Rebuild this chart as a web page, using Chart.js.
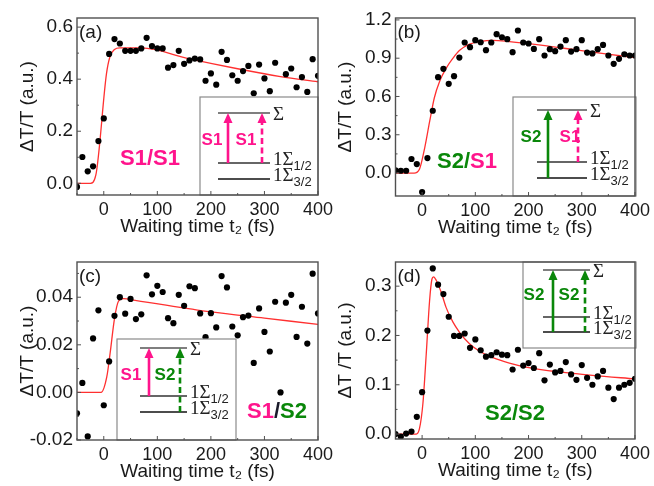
<!DOCTYPE html>
<html>
<head>
<meta charset="utf-8">
<script src="https://cdn.jsdelivr.net/npm/chart.js@4.4.1/dist/chart.umd.min.js"></script>
<style>
  body { margin: 0; background: #fff; }
  #wrap { position: relative; width: 654px; height: 486px; }
  canvas { position: absolute; left: 0; top: 0; }
</style>
</head>
<body>
<div id="wrap">
  <canvas id="pa" width="654" height="486"></canvas>
  <canvas id="pb" width="654" height="486"></canvas>
  <canvas id="pc" width="654" height="486"></canvas>
  <canvas id="pd" width="654" height="486"></canvas>
</div>
<script>
// waiting time t2 (fs) and dT/T for each panel
const tA = [-50,-40,-30,-20,-10,0,10,20,30,40,50,60,70,80,90,100,110,120,130,140,150,160,170,180,190,200,210,220,230,240,250,260,270,280,290,300,310,320,340,350,360,370,380,390,400];
const vA = [-0.014,0.101,0.046,0.065,0.162,0.249,0.497,0.554,0.537,0.509,0.509,0.509,0.518,0.559,0.527,0.518,0.518,0.444,0.454,0.509,0.459,0.472,0.479,0.476,0.394,0.422,0.379,0.505,0.474,0.415,0.394,0.431,0.451,0.346,0.456,0.403,0.354,0.463,0.419,0.441,0.369,0.408,0.351,0.477,0.413];
const fitTA = [-50,-25,-15,5,11.5,20,30,70,160,250,330,400];
const fitVA = [0,0,0.03,0.42,0.486,0.514,0.52,0.52,0.478,0.44,0.41,0.39];

const tB = [-50,-40,-30,-20,-10,0,10,20,30,40,50,60,70,80,90,100,110,120,130,140,150,160,170,180,190,200,210,220,230,240,250,260,270,280,290,300,310,320,330,340,350,360,370,380,390,400];
const vB = [0.021,0.018,0.018,0.11,0.07,-0.149,0.117,0.488,0.751,0.817,0.699,0.759,0.905,1.023,0.986,1.041,1.025,0.963,1.023,1.088,1.064,1.049,0.947,1.117,1.023,1.015,0.973,1.049,0.921,0.971,0.955,0.991,1.041,0.952,0.971,1.041,0.944,0.937,0.971,1.004,0.921,0.856,0.895,0.931,0.921,0.921];
const fitTB = [-50,-15,-5,5,14,23,33,45,58,70,89,108,133,164,227,289,352,400];
const fitVB = [0,0,0.03,0.2,0.40,0.59,0.72,0.82,0.90,0.96,1.01,1.03,1.04,1.03,1.0,0.965,0.93,0.905];

const tC = [-50,-40,-30,-20,-10,0,10,20,30,40,50,60,70,80,90,100,110,120,130,140,150,160,170,180,190,200,210,220,230,240,250,260,270,280,290,300,310,320,330,340,350,360,370,380,390,400];
const vC = [-0.0088,0.004,-0.0185,0.0227,0.0345,-0.0054,0.013,0.0322,0.04,0.0331,0.0393,0.0308,0.0328,0.0492,0.0412,0.0448,0.0422,0.0312,0.0291,0.041,0.0364,0.0446,0.0438,0.0332,0.0232,0.0333,0.0273,0.0489,0.0441,0.0277,0.024,0.0316,0.0323,0.0124,0.0353,0.0254,0.0172,0.0381,0.0,0.0377,0.041,0.0233,0.036,0.0205,0.0499,0.0332];
const fitTC = [-50,-5,5.6,11.8,20,27.4,36.7,58.5,200,300,400];
const fitVC = [0,0,0.0065,0.0164,0.031,0.0383,0.0394,0.0387,0.0338,0.0312,0.0286];

const tD = [-50,-40,-30,-20,-10,0,10,20,30,40,50,60,70,80,90,100,110,120,130,140,150,160,170,180,190,200,210,220,230,240,250,260,270,280,290,300,310,320,330,340,350,360,370,380,390,400];
const vD = [0.0,-0.005,0.001,0.005,0.035,0.085,0.21,0.336,0.303,0.284,0.238,0.199,0.199,0.204,0.175,0.192,0.17,0.157,0.16,0.166,0.161,0.16,0.131,0.171,0.139,0.144,0.134,0.164,0.109,0.141,0.125,0.128,0.146,0.121,0.11,0.14,0.114,0.1,0.117,0.128,0.094,0.071,0.094,0.1,0.104,0.112];
const fitTD = [-50,-11,-5,1.5,7.8,14,18.4,21.5,26.5,36,45,58,70,89,108,133,164,195,258,320,400];
const fitVD = [0,0,0.011,0.062,0.163,0.27,0.314,0.319,0.312,0.287,0.257,0.227,0.207,0.183,0.168,0.155,0.144,0.136,0.126,0.119,0.112];

// ticks
const xTicks = [0,100,200,300,400];
const xMinor = [-50,50,150,250,350];
const yTicksA = [0,0.2,0.4,0.6];
const yMinorA = [0.1,0.3,0.5];
const yTicksB = [0,0.3,0.6,0.9,1.2];
const yMinorB = [0.15,0.45,0.75,1.05];
const yTicksC = [-0.02,0,0.02,0.04];
const yMinorC = [-0.01,0.01,0.03,0.05];
const yTicksD = [0,0.1,0.2,0.3];
const yMinorD = [0.05,0.15,0.25];

const PINK = '#ff148c';
const GREEN = '#0a870a';
const RED = '#ff3030';
const SANS = '"Liberation Sans", Arial, sans-serif';
const SERIF = '"Liberation Serif", "Times New Roman", serif';

Chart.defaults.font.family = SANS;
Chart.defaults.color = '#1a1a1a';

function arrow(ctx, x, y0, y1, color, dashed) {
  const head = 10, hw = 4.5;
  ctx.save();
  ctx.strokeStyle = color;
  ctx.lineWidth = 2.6;
  ctx.setLineDash(dashed ? [6, 3.5] : []);
  ctx.beginPath();
  ctx.moveTo(x, y0);
  ctx.lineTo(x, y1 + head - 1);
  ctx.stroke();
  ctx.setLineDash([]);
  ctx.fillStyle = color;
  ctx.beginPath();
  ctx.moveTo(x, y1);
  ctx.lineTo(x - hw, y1 + head);
  ctx.lineTo(x + hw, y1 + head);
  ctx.closePath();
  ctx.fill();
  ctx.restore();
}

function levelText(ctx, x, y, sub) {
  ctx.fillStyle = '#222';
  ctx.textAlign = 'left';
  ctx.textBaseline = 'middle';
  ctx.font = '19px ' + SERIF;
  const main = sub ? '1\u03A3' : '\u03A3';
  ctx.fillText(main, x, y);
  if (sub) {
    const w = ctx.measureText(main).width;
    ctx.font = '13px ' + SANS;
    ctx.fillText(sub, x + w, y + 6);
  }
}

function drawParts(ctx, parts, cx, cy, font) {
  ctx.font = font;
  ctx.textAlign = 'left';
  ctx.textBaseline = 'middle';
  const w = parts.reduce((s, p) => s + ctx.measureText(p[0]).width, 0);
  let x = cx - w / 2;
  parts.forEach(p => {
    ctx.fillStyle = p[1];
    ctx.fillText(p[0], x, cy);
    x += ctx.measureText(p[0]).width;
  });
}

const decor = {
  id: 'decor',
  afterDraw(chart, args, o) {
    const ctx = chart.ctx, a = chart.chartArea;
    const xs = chart.scales.x, ys = chart.scales.y;
    ctx.save();

    // inset
    const ins = o.inset;
    const [bx0, by0, bx1, by1] = ins.box;
    ctx.fillStyle = '#fff';
    ctx.fillRect(bx0, by0, bx1 - bx0, by1 - by0);
    ctx.strokeStyle = '#8a8a8a';
    ctx.lineWidth = 1.2;
    ctx.strokeRect(bx0, by0, bx1 - bx0, by1 - by0);
    const lc = ['#555', '#333', '#111'];
    ins.levels.forEach((ly, i) => {
      ctx.strokeStyle = lc[i];
      ctx.lineWidth = 1.3;
      ctx.beginPath();
      ctx.moveTo(ins.lx[0], ly);
      ctx.lineTo(ins.lx[1], ly);
      ctx.stroke();
    });
    levelText(ctx, ins.textX, ins.levels[0] + 2, null);
    levelText(ctx, ins.textX, ins.levels[1] - 3, '1/2');
    levelText(ctx, ins.textX, ins.levels[2] - 3, '3/2');
    ins.arrows.forEach(ar => arrow(ctx, ar[0], ar[1], ar[2], ar[3], ar[4]));
    ctx.font = 'bold 17px ' + SANS;
    ctx.textAlign = 'center';
    ctx.textBaseline = 'middle';
    ins.labels.forEach(l => { ctx.fillStyle = l[3]; ctx.fillText(l[0], l[1], l[2]); });

    // frame
    ctx.strokeStyle = '#505050';
    ctx.lineWidth = 1.4;
    ctx.strokeRect(a.left, a.top, a.right - a.left, a.bottom - a.top);

    // inward ticks
    ctx.lineWidth = 1;
    ctx.beginPath();
    xTicks.forEach(v => { const p = xs.getPixelForValue(v); ctx.moveTo(p, a.bottom); ctx.lineTo(p, a.bottom - 4); });
    xMinor.forEach(v => { const p = xs.getPixelForValue(v); ctx.moveTo(p, a.bottom); ctx.lineTo(p, a.bottom - 2); });
    o.yTicks.forEach(v => { const p = ys.getPixelForValue(v); ctx.moveTo(a.left, p); ctx.lineTo(a.left + 4, p); });
    o.yMinor.forEach(v => { const p = ys.getPixelForValue(v); ctx.moveTo(a.left, p); ctx.lineTo(a.left + 2, p); });
    ctx.stroke();

    // panel letter
    ctx.fillStyle = '#1a1a1a';
    ctx.font = '19px ' + SANS;
    ctx.textAlign = 'left';
    ctx.textBaseline = 'middle';
    ctx.fillText(o.letter, a.left + 2, a.top + 15);

    // big label
    drawParts(ctx, o.big.parts, o.big.x, o.big.y, 'bold 22px ' + SANS);
    ctx.restore();
  }
};

function makeChart(id, p) {
  const [L, T, R, B] = p.area;
  return new Chart(document.getElementById(id), {
    type: 'scatter',
    data: {
      datasets: [
        {
          data: p.t.map((t, i) => ({ x: t, y: p.v[i] })),
          pointRadius: 3.1,
          pointBackgroundColor: '#000',
          pointBorderWidth: 0,
          showLine: false
        },
        {
          data: p.ft.map((t, i) => ({ x: t, y: p.fv[i] })),
          showLine: true,
          borderColor: RED,
          borderWidth: 1.3,
          pointRadius: 0,
          cubicInterpolationMode: 'monotone'
        }
      ]
    },
    options: {
      responsive: false,
      animation: false,
      events: [],
      layout: { padding: { left: L - 65, top: T, right: 654 - R, bottom: 486 - B - 45 } },
      plugins: {
        legend: { display: false },
        tooltip: { enabled: false },
        decor: p.decor
      },
      scales: {
        x: {
          type: 'linear',
          min: -50,
          max: 400,
          afterBuildTicks: s => { s.ticks = xTicks.map(v => ({ value: v })); },
          afterFit: s => { s.height = 45; },
          grid: { display: false, drawTicks: false },
          border: { display: false },
          ticks: { font: { size: 18 }, padding: 4, maxRotation: 0, callback: v => String(v) },
          title: { display: true, text: 'Waiting time t\u2082 (fs)', font: { size: 19 }, padding: { top: 0, bottom: 1.5 } }
        },
        y: {
          type: 'linear',
          min: p.yMin,
          max: p.yMax,
          afterBuildTicks: s => { s.ticks = p.decor.yTicks.map(v => ({ value: v })); },
          afterFit: s => { s.width = 65; },
          grid: { display: false, drawTicks: false },
          border: { display: false },
          ticks: { font: { size: 19 }, padding: 4, callback: v => v.toFixed(p.dec) },
          title: { display: true, text: p.yTitle, font: { size: 19 }, padding: { top: 4, bottom: 0 } }
        }
      }
    },
    plugins: [decor]
  });
}

makeChart('pa', {
  area: [77, 18, 318, 195], t: tA, v: vA, ft: fitTA, fv: fitVA,
  yMin: -0.045, yMax: 0.635, dec: 1, yTitle: '\u0394T/T (a.u.)',
  decor: {
    yTicks: yTicksA, yMinor: yMinorA, letter: '(a)',
    big: { parts: [['S1', PINK], ['/', PINK], ['S1', PINK]], x: 150, y: 159 },
    inset: {
      box: [200, 97, 318, 195], lx: [218, 270], levels: [113, 163, 179], textX: 273,
      arrows: [[228, 163, 113, PINK, false], [262, 163, 113, PINK, true]],
      labels: [['S1', 212, 140, PINK], ['S1', 246, 140, PINK]]
    }
  }
});

makeChart('pb', {
  area: [395.5, 18, 636, 196], t: tB, v: vB, ft: fitTB, fv: fitVB,
  yMin: -0.18, yMax: 1.215, dec: 1, yTitle: '\u0394T/T (a.u.)',
  decor: {
    yTicks: yTicksB, yMinor: yMinorB, letter: '(b)',
    big: { parts: [['S2', GREEN], ['/', GREEN], ['S1', PINK]], x: 467, y: 162 },
    inset: {
      box: [513, 97, 636, 196], lx: [537, 587], levels: [110, 162, 178], textX: 590,
      arrows: [[548, 178, 110, GREEN, false], [578, 162, 110, PINK, true]],
      labels: [['S2', 531, 137, GREEN], ['S1', 570, 137, PINK]]
    }
  }
});

makeChart('pc', {
  area: [77, 262, 318, 440], t: tC, v: vC, ft: fitTC, fv: fitVC,
  yMin: -0.02, yMax: 0.0548, dec: 2, yTitle: '\u0394T/T (a.u.)',
  decor: {
    yTicks: yTicksC, yMinor: yMinorC, letter: '(c)',
    big: { parts: [['S1', PINK], ['/', '#1a1a2a'], ['S2', GREEN]], x: 277, y: 412 },
    inset: {
      box: [117, 339, 236, 440], lx: [140, 187], levels: [348, 396, 412], textX: 190,
      arrows: [[149, 396, 348, PINK, false], [180, 412, 348, GREEN, true]],
      labels: [['S1', 131, 375, PINK], ['S2', 165, 375, GREEN]]
    }
  }
});

makeChart('pd', {
  area: [395.5, 262, 636, 439], t: tD, v: vD, ft: fitTD, fv: fitVD,
  yMin: -0.01, yMax: 0.349, dec: 1, yTitle: '\u0394T /T (a.u.)',
  decor: {
    yTicks: yTicksD, yMinor: yMinorD, letter: '(d)',
    big: { parts: [['S2', GREEN], ['/', GREEN], ['S2', GREEN]], x: 515, y: 414 },
    inset: {
      box: [523, 262, 636, 348], lx: [543, 590], levels: [270, 317, 332], textX: 593,
      arrows: [[553, 332, 270, GREEN, false], [585, 332, 270, GREEN, true]],
      labels: [['S2', 534, 295, GREEN], ['S2', 569, 295, GREEN]]
    }
  }
});
</script>
</body>
</html>
